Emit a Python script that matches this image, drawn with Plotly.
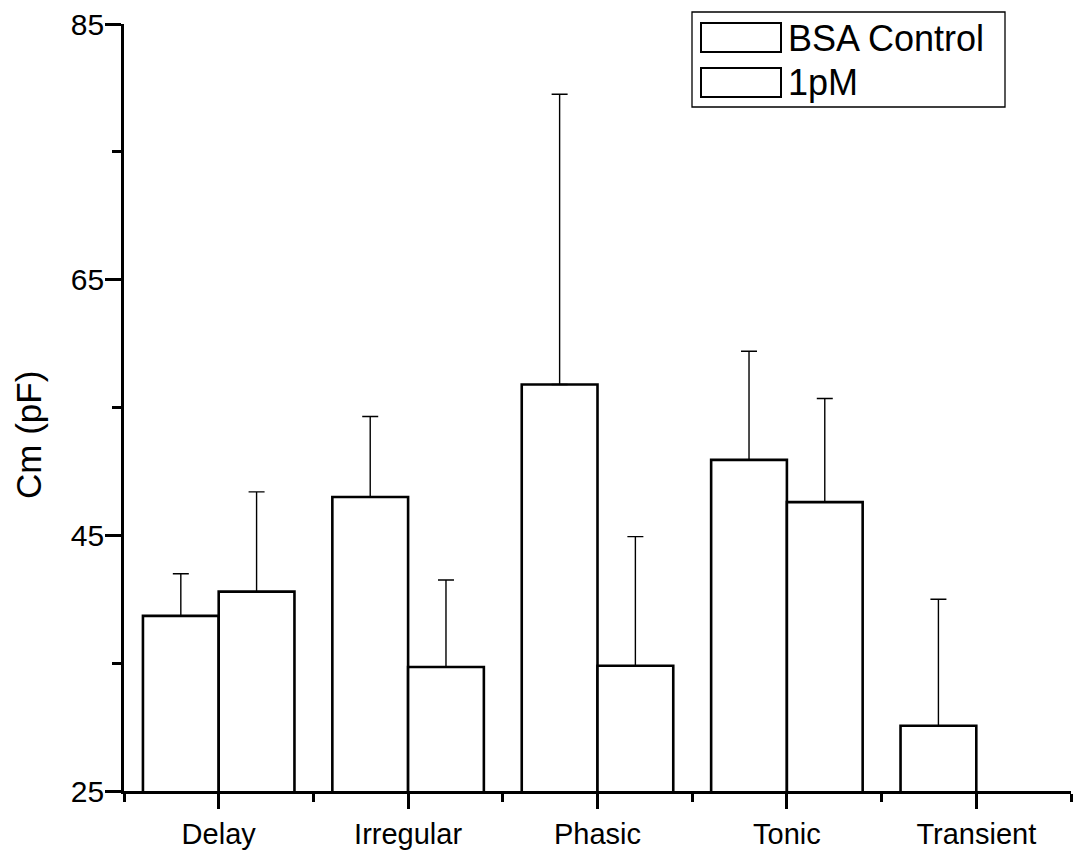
import plotly.graph_objects as go

categories = ["Delay", "Irregular", "Phasic", "Tonic", "Transient"]
bsa_mean = [38.7, 48.0, 56.8, 50.9, 30.1]
bsa_err = [3.3, 6.3, 22.7, 8.5, 9.9]
pm_mean = [40.6, 34.7, 34.8, 47.6, None]
pm_err = [7.8, 6.8, 10.1, 8.1, None]
series_names = ["BSA Control", "1pM"]
y_ticks = [25, 45, 65, 85]

FONT = "Liberation Sans, Arial, Helvetica, sans-serif"
W, H = 1073, 853
L, R, T, B = 124, 2, 24, 62
PW, PH = W - L - R, H - T - B

xs = list(range(len(categories)))

def bar(name, y, err):
    return go.Bar(
        x=xs, y=y, name=name,
        marker=dict(color="white", line=dict(color="black", width=2.6)),
        error_y=dict(type="data", symmetric=False, array=err,
                     arrayminus=[0 if e is not None else None for e in err],
                     color="black", thickness=1.4, width=8),
        showlegend=False,
    )

fig = go.Figure([bar(series_names[0], bsa_mean, bsa_err),
                 bar(series_names[1], pm_mean, pm_err)])

def px_x(px):
    return (px - L) / PW

def px_y(py):
    return (H - B - py) / PH

shapes = []
annotations = []
# legend box
shapes.append(dict(type="rect", xref="paper", yref="paper",
                   x0=px_x(692), x1=px_x(1005), y0=px_y(107), y1=px_y(12),
                   line=dict(color="black", width=1.3), fillcolor="white"))
for i, name in enumerate(series_names):
    top = 23 + i * 45
    shapes.append(dict(type="rect", xref="paper", yref="paper",
                       x0=px_x(701), x1=px_x(781), y0=px_y(top + 29), y1=px_y(top),
                       line=dict(color="black", width=2), fillcolor="white"))
    annotations.append(dict(xref="paper", yref="paper", x=px_x(786), y=px_y(top + 15),
                            text=name, showarrow=False, xanchor="left", yanchor="middle",
                            font=dict(family=FONT, size=36, color="black")))
# y-axis title
annotations.append(dict(xref="paper", yref="paper", x=px_x(29), y=px_y(435),
                        text="Cm (pF)", showarrow=False, textangle=-90,
                        xanchor="center", yanchor="middle",
                        font=dict(family=FONT, size=35, color="black")))

fig.update_layout(
    width=W, height=H,
    margin=dict(l=L, r=R, t=T, b=B, pad=0),
    paper_bgcolor="white", plot_bgcolor="white",
    barmode="group", bargap=0.2, bargroupgap=0,
    font=dict(family=FONT, color="black"),
    shapes=shapes, annotations=annotations,
    xaxis=dict(
        range=[-0.5, 4.5], tickmode="array", tickvals=xs, ticktext=categories,
        showline=True, linecolor="black", linewidth=2.6,
        ticks="outside", ticklen=15, tickwidth=2.8, tickcolor="black",
        showgrid=False, zeroline=False,
        tickfont=dict(family=FONT, size=29, color="black"),
        minor=dict(ticks="outside", tick0=0.5, dtick=1, ticklen=8,
                   tickwidth=2.8, tickcolor="black", showgrid=False),
    ),
    yaxis=dict(
        range=[25, 85], tickmode="array", tickvals=y_ticks,
        showline=True, linecolor="black", linewidth=2.6,
        ticks="outside", ticklen=16, tickwidth=2.8, tickcolor="black",
        showgrid=False, zeroline=False, ticklabelstandoff=-5,
        tickfont=dict(family=FONT, size=30, color="black"),
        minor=dict(ticks="outside", tick0=35, dtick=20, ticklen=9,
                   tickwidth=2.8, tickcolor="black", showgrid=False),
    ),
)

fig.write_html("out.html")
